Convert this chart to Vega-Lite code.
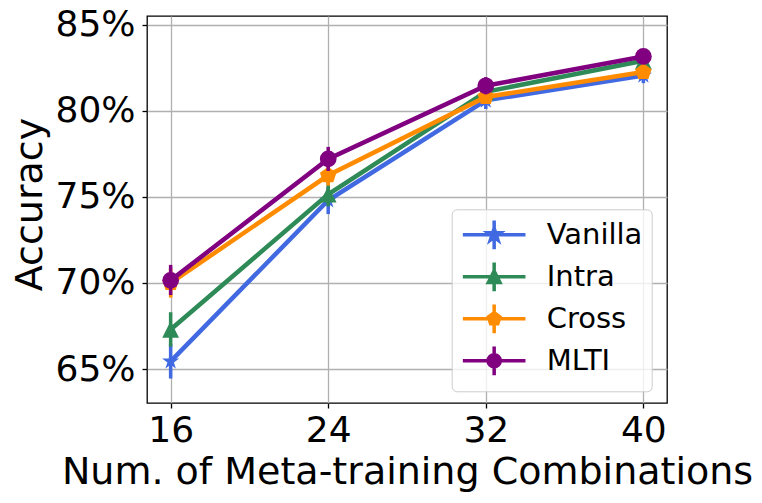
{
  "$schema": "https://vega.github.io/schema/vega-lite/v6.json",
  "autosize": "none",
  "width": 520,
  "height": 387,
  "padding": {"left": 147, "top": 16, "right": 95, "bottom": 100},
  "background": "white",
  "data": {
    "values": [
      {"n": 16, "series": "Vanilla", "acc": 65.45, "lo": 64.45, "hi": 66.45},
      {"n": 24, "series": "Vanilla", "acc": 74.8, "lo": 74.0, "hi": 75.6},
      {"n": 32, "series": "Vanilla", "acc": 80.6, "lo": 80.1, "hi": 81.1},
      {"n": 40, "series": "Vanilla", "acc": 82.05, "lo": 81.6, "hi": 82.5},
      {"n": 16, "series": "Intra", "acc": 67.3, "lo": 66.3, "hi": 68.3},
      {"n": 24, "series": "Intra", "acc": 75.15, "lo": 74.45, "hi": 75.85},
      {"n": 32, "series": "Intra", "acc": 81.1, "lo": 80.6, "hi": 81.6},
      {"n": 40, "series": "Intra", "acc": 82.9, "lo": 82.5, "hi": 83.3},
      {"n": 16, "series": "Cross", "acc": 70.0, "lo": 69.15, "hi": 70.85},
      {"n": 24, "series": "Cross", "acc": 76.25, "lo": 75.65, "hi": 76.85},
      {"n": 32, "series": "Cross", "acc": 80.8, "lo": 80.4, "hi": 81.2},
      {"n": 40, "series": "Cross", "acc": 82.25, "lo": 81.85, "hi": 82.65},
      {"n": 16, "series": "MLTI", "acc": 70.15, "lo": 69.3, "hi": 71.05},
      {"n": 24, "series": "MLTI", "acc": 77.2, "lo": 76.5, "hi": 77.9},
      {"n": 32, "series": "MLTI", "acc": 81.45, "lo": 80.95, "hi": 81.95},
      {"n": 40, "series": "MLTI", "acc": 83.15, "lo": 82.8, "hi": 83.5}
    ]
  },
  "encoding": {
    "x": {
      "field": "n",
      "type": "quantitative",
      "scale": {"domain": [14.8, 41.2], "nice": false, "zero": false},
      "axis": {
        "values": [16, 24, 32, 40],
        "title": "Num. of Meta-training Combinations",
        "labelPadding": 5,
        "labelBaseline": "top",
        "titleY": 80,
        "titleBaseline": "alphabetic"
      }
    },
    "y": {
      "field": "acc",
      "type": "quantitative",
      "scale": {"domain": [63.03, 85.5], "nice": false, "zero": false},
      "axis": {
        "values": [65, 70, 75, 80, 85],
        "labelExpr": "datum.value + '%'",
        "title": "Accuracy",
        "labelPadding": 7,
        "titleX": -106,
        "titleY": 188,
        "titleAngle": -90,
        "titleAlign": "center",
        "titleBaseline": "alphabetic"
      }
    },
    "color": {
      "field": "series",
      "type": "nominal",
      "scale": {
        "domain": ["MLTI", "Cross", "Intra", "Vanilla"],
        "range": ["#800080", "#ff8c00", "#2e8b57", "#4169e1"]
      },
      "legend": null
    }
  },
  "layer": [
    {
      "transform": [{"filter": "datum.series === 'Vanilla'"}],
      "layer": [
        {"mark": {"type": "rule", "strokeWidth": 3.5}, "encoding": {"y": {"field": "lo", "type": "quantitative"}, "y2": {"field": "hi"}}},
        {"mark": {"type": "line", "strokeWidth": 4.5}},
        {"mark": {"type": "point", "filled": true, "opacity": 1, "size": 320, "shape": "M0,-1L0.2245,-0.309L0.951,-0.309L0.363,0.118L0.588,0.809L0,0.382L-0.588,0.809L-0.363,0.118L-0.951,-0.309L-0.2245,-0.309Z"}}
      ]
    },
    {
      "transform": [{"filter": "datum.series === 'Intra'"}],
      "layer": [
        {"mark": {"type": "rule", "strokeWidth": 3.5}, "encoding": {"y": {"field": "lo", "type": "quantitative"}, "y2": {"field": "hi"}}},
        {"mark": {"type": "line", "strokeWidth": 4.5}},
        {"mark": {"type": "point", "filled": true, "opacity": 1, "size": 280, "shape": "M0,-1L1,1L-1,1Z"}}
      ]
    },
    {
      "transform": [{"filter": "datum.series === 'Cross'"}],
      "layer": [
        {"mark": {"type": "rule", "strokeWidth": 3.5}, "encoding": {"y": {"field": "lo", "type": "quantitative"}, "y2": {"field": "hi"}}},
        {"mark": {"type": "line", "strokeWidth": 4.5}},
        {"mark": {"type": "point", "filled": true, "opacity": 1, "size": 300, "shape": "M0,-1L0.951,-0.309L0.588,0.809L-0.588,0.809L-0.951,-0.309Z"}}
      ]
    },
    {
      "transform": [{"filter": "datum.series === 'MLTI'"}],
      "layer": [
        {"mark": {"type": "rule", "strokeWidth": 3.5}, "encoding": {"y": {"field": "lo", "type": "quantitative"}, "y2": {"field": "hi"}}},
        {"mark": {"type": "line", "strokeWidth": 4.5}},
        {"mark": {"type": "point", "filled": true, "opacity": 1, "size": 280, "shape": "circle"}}
      ]
    },
    {
      "mark": {"type": "point", "filled": true, "opacity": 0},
      "encoding": {
        "color": null,
        "fill": {
          "field": "series",
          "type": "nominal",
          "scale": {
            "domain": ["Vanilla", "Intra", "Cross", "MLTI"],
            "range": ["#4169e1", "#2e8b57", "#ff8c00", "#800080"]
          },
          "legend": {"title": null, "orient": "none", "legendX": 304.7, "legendY": 193.3}
        },
        "stroke": {
          "field": "series",
          "type": "nominal",
          "scale": {
            "domain": ["Vanilla", "Intra", "Cross", "MLTI"],
            "range": ["#4169e1", "#2e8b57", "#ff8c00", "#800080"]
          },
          "legend": {"title": null, "orient": "none", "legendX": 304.7, "legendY": 193.3}
        },
        "shape": {
          "field": "series",
          "type": "nominal",
          "scale": {
            "domain": ["Vanilla", "Intra", "Cross", "MLTI"],
            "range": [
              "M-0.99,0H3.33M1.17,-0.99V0.99M1.17,-0.45L1.271,-0.139L1.598,-0.139L1.333,0.053L1.435,0.364L1.17,0.172L0.905,0.364L1.007,0.053L0.742,-0.139L1.069,-0.139Z",
              "M-0.99,0H3.33M1.17,-0.99V0.99M1.17,-0.4L1.57,0.4L0.77,0.4Z",
              "M-0.99,0H3.33M1.17,-0.99V0.99M1.17,-0.42L1.569,-0.13L1.417,0.34L0.923,0.34L0.771,-0.13Z",
              "M-0.99,0H3.33M1.17,-0.99V0.99M1.59,0A0.42,0.42,0,1,1,0.75,0A0.42,0.42,0,1,1,1.59,0Z"
            ]
          },
          "legend": {"title": null, "orient": "none", "legendX": 304.7, "legendY": 193.3}
        }
      }
    }
  ],
  "config": {
    "view": {"stroke": "#000000", "strokeWidth": 1.3},
    "font": "DejaVu Sans",
    "axis": {
      "domain": false,
      "grid": true,
      "gridColor": "#b0b0b0",
      "gridWidth": 1.3,
      "tickColor": "#000000",
      "tickSize": 5,
      "tickWidth": 1.3,
      "labelFont": "DejaVu Sans",
      "labelFontSize": 36,
      "labelColor": "#000000",
      "labelOverlap": false,
      "labelFlush": false,
      "titleFont": "DejaVu Sans",
      "titleFontSize": 38,
      "titleFontWeight": "normal",
      "titleColor": "#000000"
    },
    "legend": {
      "fillColor": "rgba(255,255,255,0.8)",
      "strokeColor": "#cccccc",
      "cornerRadius": 5,
      "padding": 9,
      "labelFont": "DejaVu Sans",
      "labelFontSize": 29,
      "labelColor": "#000000",
      "labelOffset": 53,
      "symbolSize": 841,
      "symbolStrokeWidth": 3.5,
      "symbolOpacity": 1,
      "rowPadding": -1
    }
  }
}
